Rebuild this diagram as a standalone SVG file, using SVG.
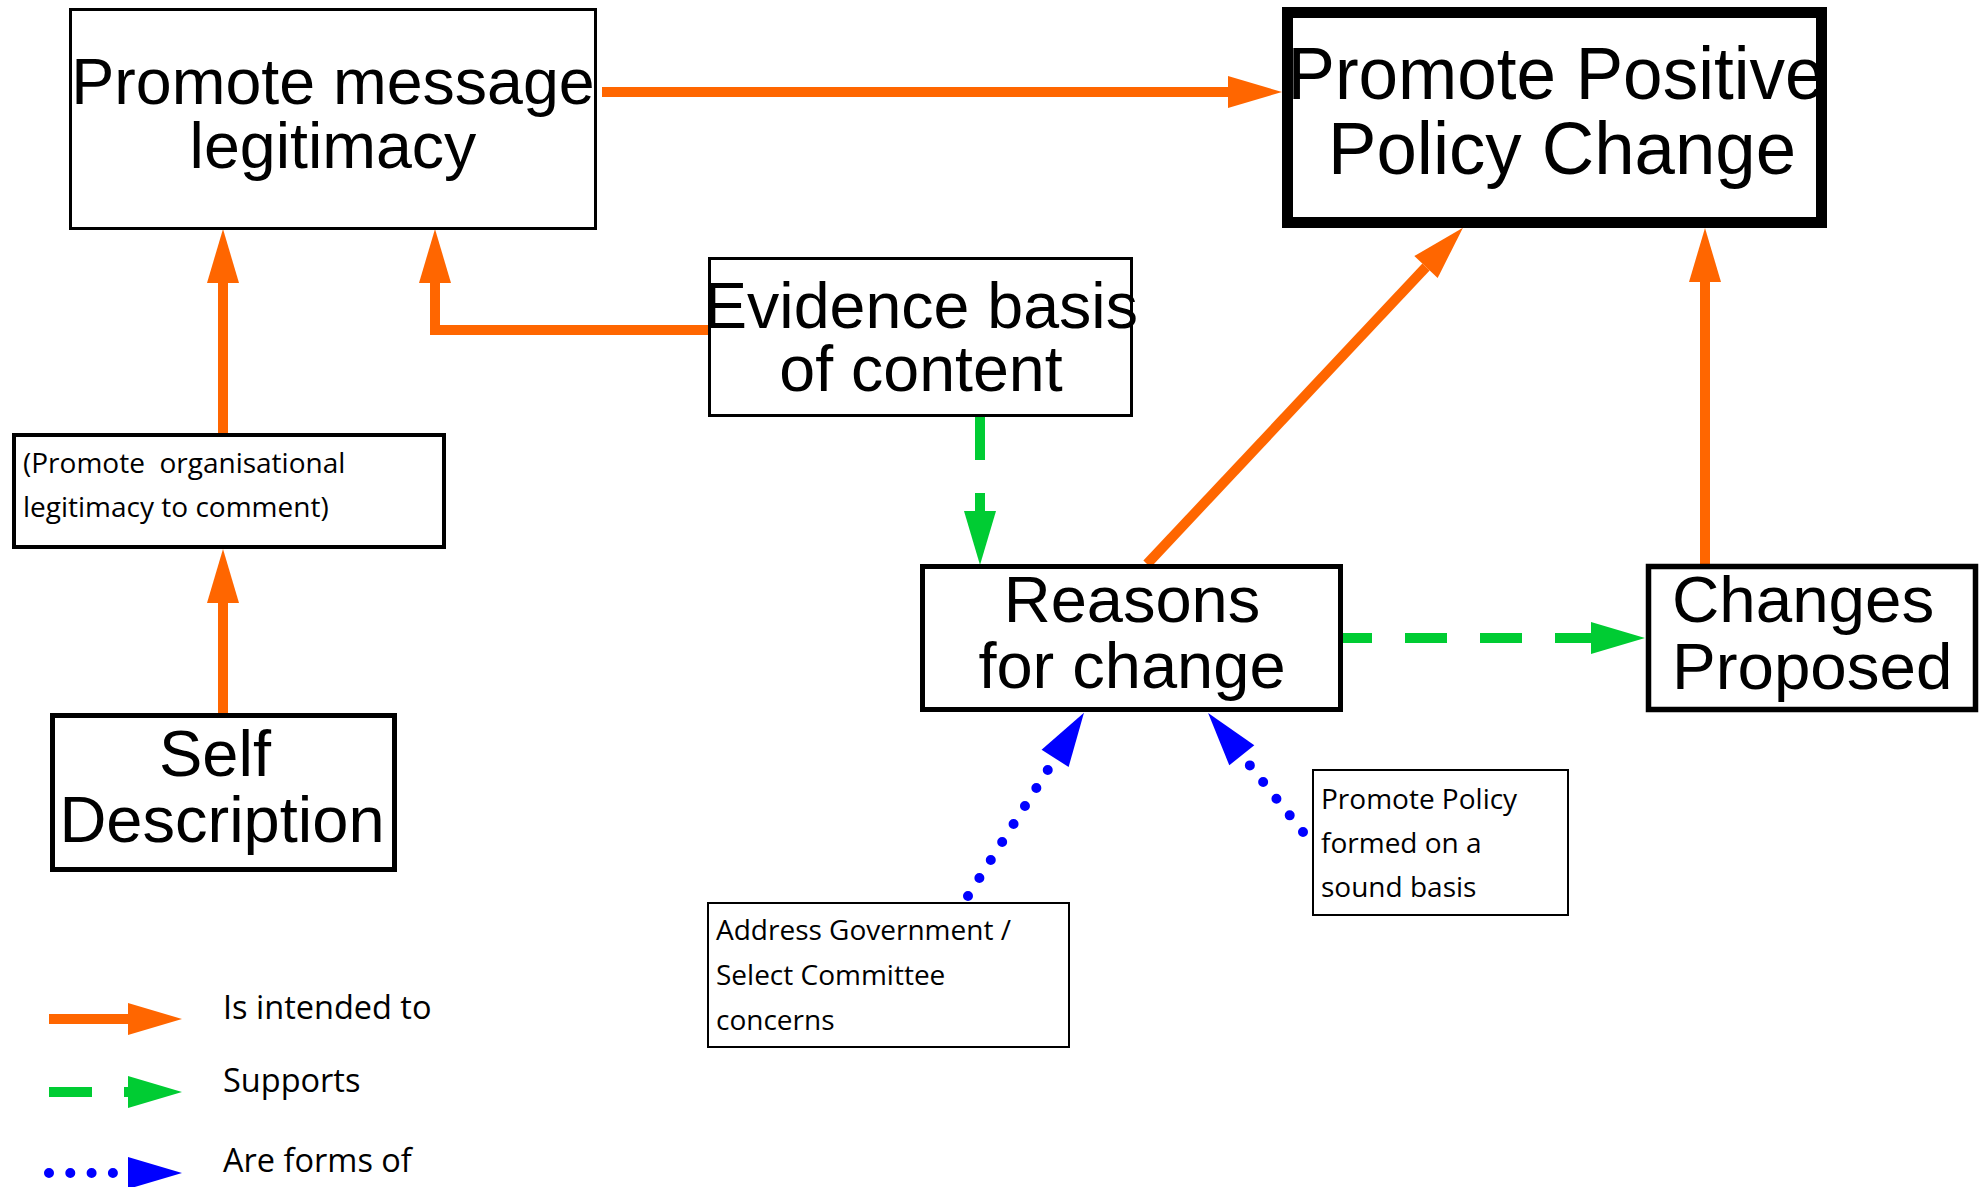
<svg xmlns="http://www.w3.org/2000/svg" width="1984" height="1187" viewBox="0 0 1984 1187">
<style>
.box{fill:#fff;stroke:#000}
.big{font-family:"Liberation Sans",Arial,sans-serif;font-size:64.5px;fill:#000}
.sm{font-family:"Open Sans","Noto Sans",sans-serif;font-size:28px;fill:#000}
.leg{font-family:"Open Sans","Noto Sans",sans-serif;font-size:32.5px;fill:#000}
.or{fill:none;stroke:#FF6600;stroke-width:10;stroke-linejoin:miter}
.gr{fill:none;stroke:#00CC33;stroke-width:10}
.bl{fill:none;stroke:#0000FF;stroke-width:10;stroke-linecap:round;stroke-dasharray:0 21.3}
</style>
<defs>
<marker id="ho" markerUnits="userSpaceOnUse" markerWidth="54" markerHeight="32" refX="0" refY="16" orient="auto" overflow="visible"><path d="M0,0 L54,16 L0,32 z" fill="#FF6600"/></marker>
<marker id="hg" markerUnits="userSpaceOnUse" markerWidth="54" markerHeight="32" refX="0" refY="16" orient="auto" overflow="visible"><path d="M0,0 L54,16 L0,32 z" fill="#00CC33"/></marker>
<marker id="hb" markerUnits="userSpaceOnUse" markerWidth="54" markerHeight="32" refX="0" refY="16" orient="auto" overflow="visible"><path d="M0,0 L54,16 L0,32 z" fill="#0000FF"/></marker>
</defs>
<rect width="1984" height="1187" fill="#fff"/>
<g id="connectors">
<path class="or" d="M602,92 H1228" marker-end="url(#ho)"/>
<path class="or" d="M709,330 H435 V283" marker-end="url(#ho)"/>
<path class="or" d="M223,434 V283" marker-end="url(#ho)"/>
<path class="or" d="M223,714 V603" marker-end="url(#ho)"/>
<path class="or" d="M1147,564 L1426,267" marker-end="url(#ho)"/>
<path class="or" d="M1705,565 V282" marker-end="url(#ho)"/>
<path class="gr" d="M980,417 V511" stroke-dasharray="43 33" marker-end="url(#hg)"/>
<path class="gr" d="M1343,638 H1591" stroke-dasharray="42 33" stroke-dashoffset="13" marker-end="url(#hg)"/>
<path class="bl" d="M968,896 L1055.1,758.4" marker-end="url(#hb)"/>
<path class="bl" d="M1303,832 L1241.8,755.3" marker-end="url(#hb)"/>
</g>
<g id="node-legitimacy">
<rect class="box" x="70.5" y="9.5" width="525" height="219" stroke-width="3"/>
<text class="big" text-anchor="middle"><tspan x="333" y="104">Promote message</tspan><tspan x="333" y="168">legitimacy</tspan></text>
</g>
<g id="node-policy-change">
<rect class="box" x="1287.5" y="12.5" width="534" height="210" stroke-width="11"/>
<text class="big" style="font-size:75px" text-anchor="middle"><tspan x="1556" y="99" textLength="537" lengthAdjust="spacingAndGlyphs">Promote Positive</tspan><tspan x="1562" y="174" textLength="468" lengthAdjust="spacingAndGlyphs">Policy Change</tspan></text>
</g>
<g id="node-evidence">
<rect class="box" x="709.5" y="258.5" width="422" height="157" stroke-width="3"/>
<text class="big" text-anchor="middle"><tspan x="921" y="328">Evidence basis</tspan><tspan x="921" y="391">of content</tspan></text>
</g>
<g id="node-org-legitimacy">
<rect class="box" x="14" y="435" width="430" height="112" stroke-width="4"/>
<text class="sm" xml:space="preserve" style="white-space:pre"><tspan x="23" y="473">(Promote  organisational</tspan><tspan x="23" y="517">legitimacy to comment)</tspan></text>
</g>
<g id="node-self-description">
<rect class="box" x="52.5" y="715.5" width="342" height="154" stroke-width="5"/>
<text class="big" style="font-size:65px" text-anchor="middle"><tspan x="215" y="776">Self</tspan><tspan x="222" y="842">Description</tspan></text>
</g>
<g id="node-reasons">
<rect class="box" x="922.5" y="566.5" width="418" height="143" stroke-width="5"/>
<text class="big" style="font-size:65px" text-anchor="middle"><tspan x="1132" y="622">Reasons</tspan><tspan x="1132" y="688">for change</tspan></text>
</g>
<g id="node-changes">
<rect class="box" x="1648.5" y="566.5" width="327" height="143" stroke-width="5.5"/>
<text class="big" style="font-size:65.5px"><tspan x="1672" y="622">Changes</tspan><tspan x="1672" y="689">Proposed</tspan></text>
</g>
<g id="node-sound-basis">
<rect class="box" x="1313" y="770" width="255" height="145" stroke-width="2"/>
<text class="sm"><tspan x="1321" y="809">Promote Policy</tspan><tspan x="1321" y="853">formed on a</tspan><tspan x="1321" y="897">sound basis</tspan></text>
</g>
<g id="node-address-government">
<rect class="box" x="708" y="903" width="361" height="144" stroke-width="2"/>
<text class="sm"><tspan x="716" y="940">Address Government /</tspan><tspan x="716" y="985">Select Committee</tspan><tspan x="716" y="1030">concerns</tspan></text>
</g>
<g id="legend">
<path class="or" d="M49,1019 H128" marker-end="url(#ho)"/>
<path class="gr" d="M49,1092 H128" stroke-dasharray="43 32" marker-end="url(#hg)"/>
<path class="bl" d="M49,1173 H128" marker-end="url(#hb)"/>
<text class="leg" x="223" y="1019">Is intended to</text>
<text class="leg" x="223" y="1092">Supports</text>
<text class="leg" x="223" y="1172">Are forms of</text>
</g>
</svg>
